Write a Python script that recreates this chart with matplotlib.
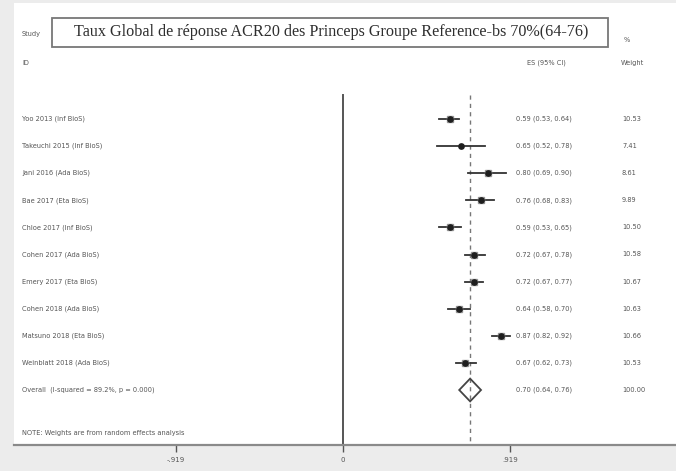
import numpy as np
import matplotlib
matplotlib.use("Agg")
import matplotlib.pyplot as plt
from matplotlib.patches import Rectangle, Polygon
from matplotlib.transforms import blended_transform_factory

# donnees
etudes = ["Yoo 2013 (Inf BioS)", "Takeuchi 2015 (Inf BioS)", "Jani 2016 (Ada BioS)",
          "Bae 2017 (Eta BioS)", "Chloe 2017 (Inf BioS)", "Cohen 2017 (Ada BioS)",
          "Emery 2017 (Eta BioS)", "Cohen 2018 (Ada BioS)", "Matsuno 2018 (Eta BioS)",
          "Weinblatt 2018 (Ada BioS)"]
es = [0.59, 0.65, 0.80, 0.76, 0.59, 0.72, 0.72, 0.64, 0.87, 0.67]
ic_bas = [0.53, 0.52, 0.69, 0.68, 0.53, 0.67, 0.67, 0.58, 0.82, 0.62]
ic_haut = [0.64, 0.78, 0.90, 0.83, 0.65, 0.78, 0.77, 0.70, 0.92, 0.73]
poids = [10.53, 7.41, 8.61, 9.89, 10.50, 10.58, 10.67, 10.63, 10.66, 10.53]
global_es, global_bas, global_haut = 0.70, 0.64, 0.76
global_label = "Overall  (I-squared = 89.2%, p = 0.000)"
ticks = [-0.919, 0, 0.919]
tick_labels = ["-.919", "0", ".919"]

W, H = 676, 471
fig = plt.figure(figsize=(W / 100, H / 100), dpi=100, facecolor="#ececec")
ax = fig.add_axes([14 / W, (H - 445) / H, (W - 14) / W, (445 - 3) / H])
ax.set_facecolor("white")

px_per_unit = 181.6
x0 = 343
ax.set_xlim((14 - x0) / px_per_unit, (W - x0) / px_per_unit)
row0, dy = 119, 27.1
ax.set_ylim((445 - row0) / dy, (3 - row0) / dy)

for s in ["top", "right", "left"]:
    ax.spines[s].set_visible(False)
ax.spines["bottom"].set_color("#8a8a8a")
ax.spines["bottom"].set_linewidth(1.6)
ax.set_xticks(ticks)
ax.set_xticklabels(tick_labels, fontsize=5, color="#555555")
ax.tick_params(axis="x", length=5, width=1, color="#555555", pad=4)
ax.set_yticks([])

n = len(etudes)
top_line = (95 - row0) / dy
ax.plot([0, 0], [top_line, ax.get_ylim()[0]], color="#555555", lw=1.4)
ax.plot([global_es, global_es], [top_line, ax.get_ylim()[0]], color="#777777",
        lw=1, ls=(0, (3, 3)))

rows = np.arange(n)
for i in range(n):
    ax.plot([ic_bas[i], ic_haut[i]], [rows[i], rows[i]], color="#333333", lw=1.3)
    ax.plot(es[i], rows[i], marker="s", ms=poids[i] * 0.45, color="#bbbbbb",
            mec="#999999", zorder=3)
    ax.plot(es[i], rows[i], marker="o", ms=3.8, color="#1e1e1e", zorder=4)

yo = n
diamant = Polygon([[global_bas, yo], [global_es, yo - 0.42], [global_haut, yo],
                   [global_es, yo + 0.42]], closed=True, fill=False,
                  edgecolor="#444444", lw=1.3, zorder=4)
ax.add_patch(diamant)

trans = blended_transform_factory(ax.transAxes, ax.transData)
def fx(px):
    return (px - 14) / (W - 14)

fs = 4.8
col = "#555555"
for i in range(n):
    ax.text(fx(22), rows[i], etudes[i], transform=trans, fontsize=fs, color=col, va="center")
    ax.text(fx(516), rows[i], f"{es[i]:.2f} ({ic_bas[i]:.2f}, {ic_haut[i]:.2f})",
            transform=trans, fontsize=fs, color=col, va="center")
    ax.text(fx(622), rows[i], f"{poids[i]:.2f}", transform=trans, fontsize=fs,
            color=col, va="center")
ax.text(fx(22), yo, global_label, transform=trans, fontsize=fs, color=col, va="center")
ax.text(fx(516), yo, f"{global_es:.2f} ({global_bas:.2f}, {global_haut:.2f})",
        transform=trans, fontsize=fs, color=col, va="center")
ax.text(fx(622), yo, "100.00", transform=trans, fontsize=fs, color=col, va="center")
ax.text(fx(22), (433 - row0) / dy, "NOTE: Weights are from random effects analysis",
        transform=trans, fontsize=fs, color=col, va="center")

# en-tetes
ax.text(fx(22), (34 - row0) / dy, "Study", transform=trans, fontsize=fs, color=col, va="center")
ax.text(fx(22), (63 - row0) / dy, "ID", transform=trans, fontsize=fs, color=col, va="center")
ax.text(fx(527), (63 - row0) / dy, "ES (95% CI)", transform=trans, fontsize=fs, color=col, va="center")
ax.text(fx(624), (40 - row0) / dy, "%", transform=trans, fontsize=fs, color=col, va="center")
ax.text(fx(621), (63 - row0) / dy, "Weight", transform=trans, fontsize=fs, color=col, va="center")

# titre encadre
fig.patches.append(Rectangle((52 / W, (H - 47) / H), (608 - 52) / W, 29 / H,
                             transform=fig.transFigure, fill=False,
                             edgecolor="#777777", lw=1.3))
fig.text(331 / W, (H - 32) / H,
         "Taux Global de réponse ACR20 des Princeps Groupe Reference-bs 70%(64-76)",
         ha="center", va="center", fontsize=11.6, family="Liberation Serif",
         color="#2e2e2e")

fig.savefig("out.png", dpi=100, facecolor=fig.get_facecolor())
